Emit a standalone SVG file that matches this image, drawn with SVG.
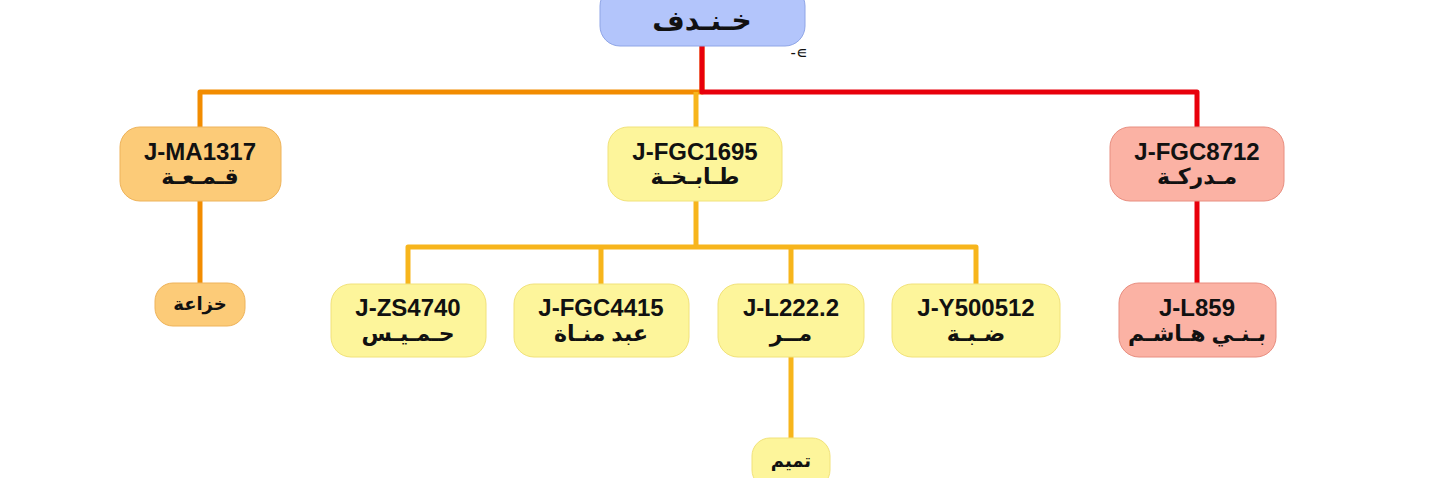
<svg xmlns="http://www.w3.org/2000/svg" width="1434" height="478" viewBox="0 0 1434 478">
<style>
.n rect{stroke-width:1}
.y rect{fill:#fdf59b;stroke:#f1e27a}
.o rect{fill:#fccb78;stroke:#eeb35a}
.r rect{fill:#fbb2a4;stroke:#e88e80}
text{font-family:"Liberation Sans","DejaVu Sans",sans-serif;font-weight:bold;fill:#111;text-anchor:middle}
.c{font-size:24px}
.a{font-size:22px}
.e path{fill:none;stroke-width:5;stroke-linejoin:round}
</style>
<rect width="1434" height="478" fill="#fff"/>
<g class="e">
<path d="M702 46V92H200V128" stroke="#f28c00"/>
<path d="M702 46V92H1197V127" stroke="#e8000b"/>
<path d="M696 92V127" stroke="#f7b51c"/>
<path d="M200 201V284" stroke="#f28c00"/>
<path d="M1197 201V283" stroke="#e8000b"/>
<path d="M696 201V247M408 284V247H976V284M601 247V284M791 247V284M791 357V438" stroke="#f7b51c"/>
</g>
<g id="root" class="n"><rect x="600" y="-14" width="205" height="60" rx="20" fill="#b3c5fb" stroke="#8fa5e6"/><text x="702" y="30" style="font-size:28px">خـنـدف</text></g>
<text x="799" y="58" style="font-size:16px;font-weight:normal">-∊</text>
<g id="ma1317" class="n o"><rect x="120" y="127" width="161" height="74" rx="20"/><text class="c" x="200" y="160">J-MA1317</text><text class="a" x="200" y="184">قـمـعـة</text></g>
<g id="fgc1695" class="n y"><rect x="608" y="127" width="174" height="74" rx="20"/><text class="c" x="695" y="160">J-FGC1695</text><text class="a" x="695" y="184">طـابـخـة</text></g>
<g id="fgc8712" class="n r"><rect x="1110" y="127" width="174" height="74" rx="20"/><text class="c" x="1197" y="160">J-FGC8712</text><text class="a" x="1197" y="184">مـدركـة</text></g>
<g id="khuzaa" class="n o"><rect x="155" y="283" width="90" height="43" rx="18"/><text x="200" y="310" style="font-size:18px">خزاعة</text></g>
<g id="zs4740" class="n y"><rect x="331" y="284" width="155" height="73" rx="20"/><text class="c" x="408" y="316">J-ZS4740</text><text class="a" x="408" y="341">حـمـيـس</text></g>
<g id="fgc4415" class="n y"><rect x="514" y="284" width="175" height="73" rx="20"/><text class="c" x="601" y="316">J-FGC4415</text><text class="a" x="601" y="341">عبد منـاة</text></g>
<g id="l222" class="n y"><rect x="718" y="284" width="146" height="73" rx="20"/><text class="c" x="791" y="316">J-L222.2</text><text class="a" x="791" y="341">مــر</text></g>
<g id="y500512" class="n y"><rect x="892" y="284" width="168" height="73" rx="20"/><text class="c" x="976" y="316">J-Y500512</text><text class="a" x="976" y="341">ضـبـة</text></g>
<g id="l859" class="n r"><rect x="1119" y="283" width="157" height="74" rx="20"/><text class="c" x="1197" y="316">J-L859</text><text class="a" x="1197" y="341">بـنـي هـاشـم</text></g>
<g id="tamim" class="n y"><rect x="752" y="438" width="78" height="50" rx="18"/><text x="791" y="467" style="font-size:18px">تميم</text></g>
</svg>
